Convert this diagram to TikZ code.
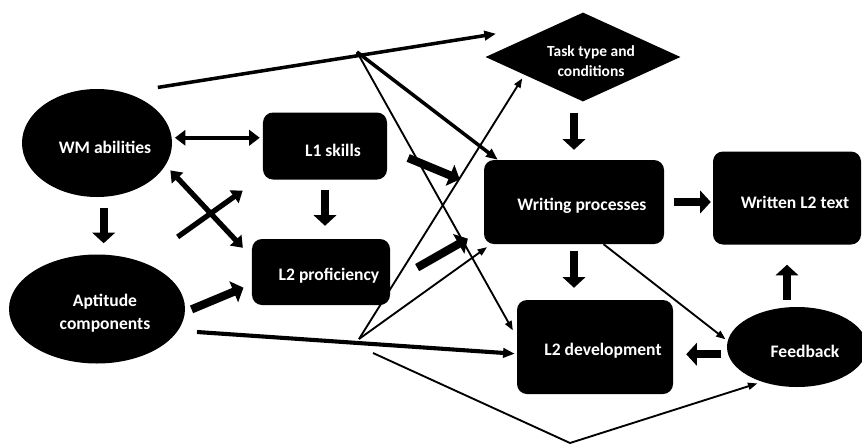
\documentclass[tikz,border=0pt]{standalone}
\usepackage{fontspec}
\setmainfont{Carlito}
\usetikzlibrary{arrows.meta, shapes.geometric}

\begin{document}
\begin{tikzpicture}[x=0.03cm, y=-0.03cm,
  txt/.style={text=white, align=center, xshift=0.24cm, yshift=-0.12cm,
    font=\fontsize{15}{19.5}\selectfont\bfseries},
  box/.style={rectangle, fill=black, rounded corners=0.3cm, label={[txt]center:#1}},
  oval/.style={ellipse, fill=black, inner sep=0pt, label={[txt]center:#1}},
  blockarr/.style={-{Triangle[length=9pt, width=19pt]}, line width=7pt},
  dblarr/.style={{Triangle[length=9pt, width=13pt]}-{Triangle[length=9pt, width=13pt]}, line width=4.5pt},
  crossarr/.style={-{Triangle[length=9pt, width=13pt]}, line width=4.5pt},
  medarr/.style={-{Triangle[length=10pt, width=8pt]}, line width=3pt},
  thinarr/.style={-{Triangle[length=8pt, width=6pt]}, line width=1.6pt}]

\useasboundingbox (0,0) rectangle (862,444);

% Nodes
\node[oval={WM abilities}, minimum width=4.5cm, minimum height=3.24cm] (wm) at (97,143) {};
\node[oval={Aptitude\\components}, minimum width=5.28cm, minimum height=3.27cm] (apt) at (97,309) {};
\node[box={L1 skills}, minimum width=3.72cm, minimum height=2.01cm] (l1) at (325,146) {};
\node[box={L2 proficiency}, minimum width=4.14cm, minimum height=1.98cm] (l2p) at (321,272) {};
\node[diamond, fill=black, inner sep=0pt, aspect=2.2,
  minimum width=5.85cm, minimum height=2.67cm,
  label={[txt, font=\fontsize{13.2}{17}\selectfont\bfseries]center:Task type and\\conditions}] (task) at (583,57) {};
\node[box={Writing processes}, minimum width=5.4cm, minimum height=2.52cm] (write) at (574,202) {};
\node[box={Written L2 text}, minimum width=4.44cm, minimum height=2.79cm] (written) at (787,198) {};
\node[box={L2 development}, minimum width=4.68cm, minimum height=2.82cm] (l2dev) at (595,347) {};
\node[oval={Feedback}, minimum width=4.2cm, minimum height=2.4cm] (fb) at (797,347) {};

% Free ends of the thin lines
\coordinate (hubtop) at (357,52);
\coordinate (hubbot) at (359,339);
\coordinate (vstart) at (373,353);
\coordinate (vbase) at (570,443);

% Block arrows
\draw[blockarr, shorten <=0.33cm, shorten >=0.33cm] ([xshift=0.2cm]wm.south) -- ([xshift=0.2cm]apt.north);
\draw[blockarr, shorten <=0.3cm, shorten >=0.39cm] (l1.south) -- (l1.south |- l2p.north);
\draw[blockarr, shorten <=0.33cm, shorten >=0.3cm] (write.north |- task.south) -- (write.north);
\draw[blockarr, shorten <=0.3cm, shorten >=0.06cm] (write.east) -- (write.east -| written.west);
\draw[blockarr, shorten <=0.21cm, shorten >=0.36cm] (write.south) -- (write.south |- l2dev.north);
\draw[blockarr, shorten <=0.21cm, shorten >=0.39cm] (fb.186) -- (fb.186 -| l2dev.east);
\draw[blockarr, shorten <=0.21cm, shorten >=0.6cm] (written.south |- fb.north) -- (written.south);
\draw[blockarr, shorten <=0.21cm, shorten >=0.27cm] (apt.358) -- (l2p.190);
\draw[blockarr, shorten <=0.68cm, shorten >=0.78cm] (l1.357) -- (write.172);
\draw[blockarr, shorten <=0.93cm, shorten >=0.55cm] (l2p.351) -- (write.197);

% Double and crossing arrows
\draw[dblarr, line width=3.5pt, shorten <=0.09cm, shorten >=0.09cm] (wm.4) -- (wm.4 -| l1.west);
\draw[dblarr, shorten <=0.21cm, shorten >=0.39cm] (wm.342) -- (l2p.168);
\draw[crossarr, shorten <=1.3cm, shorten >=0.74cm] (apt.46) -- (l1.206);

% Long lines
\draw[medarr, shorten <=1cm, shorten >=1.86cm] (wm.61) -- (task.128);
\draw[medarr, line width=3.5pt, shorten <=0.57cm, shorten >=0.06cm] (apt.345) -- (l2dev.185);
\draw[medarr] (hubtop) -- (write.151);
\draw[thinarr, shorten >=0.24cm] (hubtop) -- (l2dev.173);
\draw[thinarr, shorten >=0.12cm] (hubbot) -- (task.197);
\draw[thinarr, shorten >=0.15cm] (hubbot) -- (write.207);
\draw[thinarr, shorten >=0.08cm] (write.305) -- (fb.175);
\draw[thinarr, shorten >=0.15cm] (vstart) -- (vbase) -- (fb.225);

\end{tikzpicture}
\end{document}
